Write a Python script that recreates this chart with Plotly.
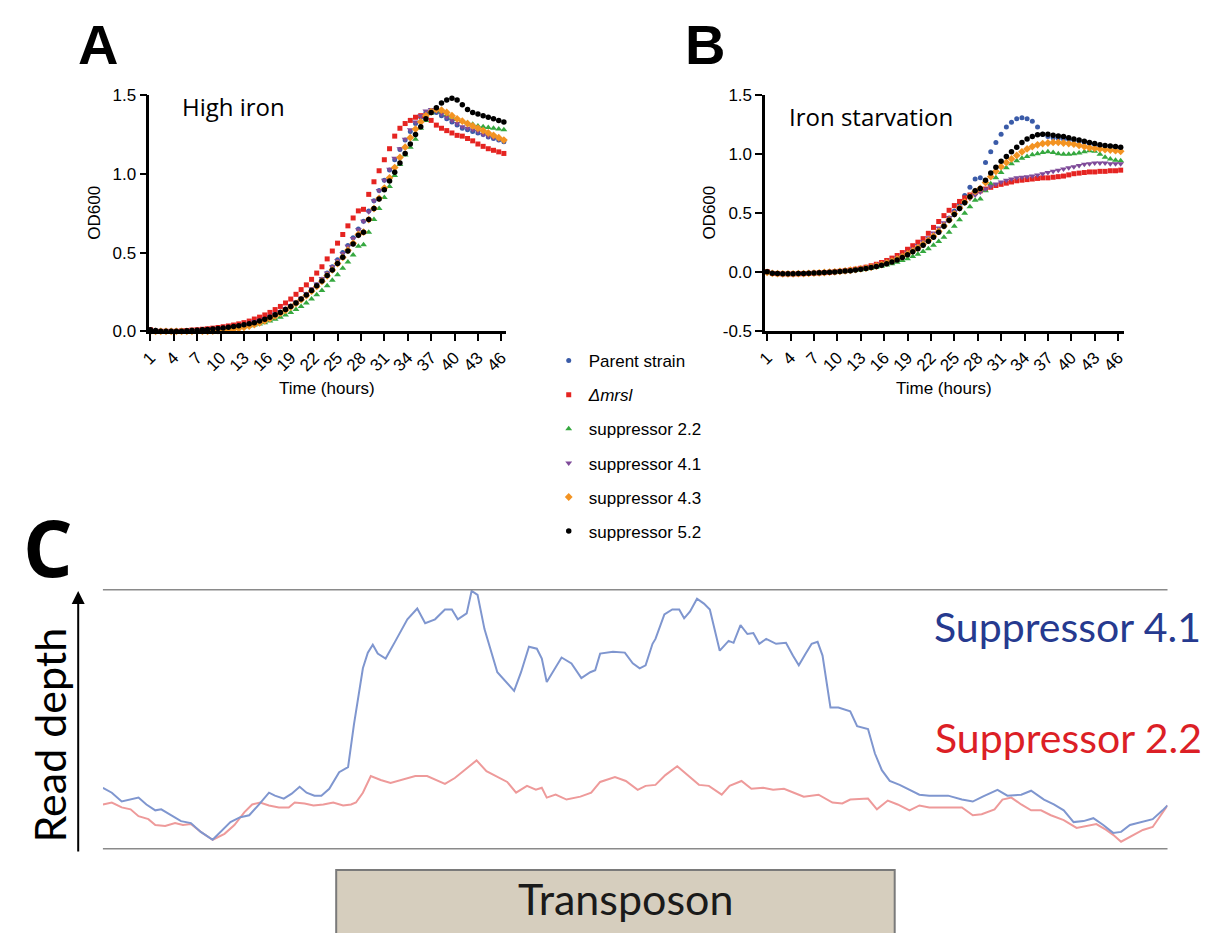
import plotly.graph_objects as go

# ---------------- data: growth curves (OD600) ----------------
time_h = [1.0, 1.67, 2.33, 3.0, 3.67, 4.33, 5.0, 5.67, 6.33, 7.0,
          7.67, 8.33, 9.0, 9.67, 10.33, 11.0, 11.67, 12.33, 13.0, 13.67,
          14.33, 15.0, 15.67, 16.33, 17.0, 17.67, 18.33, 19.0, 19.67, 20.33,
          21.0, 21.67, 22.33, 23.0, 23.67, 24.33, 25.0, 25.67, 26.33, 27.0,
          27.67, 28.33, 29.0, 29.67, 30.33, 31.0, 31.67, 32.33, 33.0, 33.67,
          34.33, 35.0, 35.67, 36.33, 37.0, 37.67, 38.33, 39.0, 39.67, 40.33,
          41.0, 41.67, 42.33, 43.0, 43.67, 44.33, 45.0, 45.67, 46.33]

strains = ["Parent strain", "<i>Δmrsl</i>", "suppressor 2.2", "suppressor 4.1",
           "suppressor 4.3", "suppressor 5.2"]

# Panel A: high iron
hi_parent = [0.005, 0.0, 0.0, 0.0, 0.0, 0.0, 0.002, 0.004, 0.006, 0.008,
             0.01, 0.012, 0.015, 0.018, 0.021, 0.025, 0.03, 0.035, 0.041, 0.048,
             0.057, 0.067, 0.079, 0.092, 0.107, 0.123, 0.141, 0.161, 0.183, 0.207,
             0.235, 0.265, 0.295, 0.33, 0.37, 0.41, 0.455, 0.5, 0.545, 0.595,
             0.65, 0.70, 0.765, 0.83, 0.895, 0.96, 1.025, 1.09, 1.155, 1.215,
             1.27, 1.32, 1.36, 1.39, 1.40, 1.39, 1.37, 1.35, 1.33, 1.31,
             1.29, 1.28, 1.27, 1.26, 1.25, 1.235, 1.225, 1.215, 1.205]
hi_mrsl = [0.01, 0.0, 0.0, 0.0, 0.0, 0.0, 0.003, 0.005, 0.008, 0.01,
           0.013, 0.016, 0.02, 0.024, 0.029, 0.034, 0.04, 0.047, 0.055, 0.065,
           0.078, 0.09, 0.104, 0.12, 0.138, 0.158, 0.18, 0.205, 0.235, 0.265,
           0.295, 0.33, 0.37, 0.41, 0.46, 0.51, 0.56, 0.615, 0.67, 0.72,
           0.765, 0.775, 0.87, 0.95, 1.02, 1.09, 1.16, 1.24, 1.29, 1.32,
           1.34, 1.36, 1.37, 1.37, 1.34, 1.31, 1.29, 1.275, 1.26, 1.245,
           1.24, 1.225, 1.21, 1.19, 1.175, 1.16, 1.15, 1.14, 1.13]
hi_s22 = [0.005, 0.0, 0.0, 0.0, 0.0, 0.0, 0.0, 0.0, 0.002, 0.004,
          0.006, 0.008, 0.01, 0.012, 0.014, 0.017, 0.02, 0.024, 0.029, 0.034,
          0.04, 0.047, 0.055, 0.065, 0.076, 0.089, 0.104, 0.12, 0.138, 0.158,
          0.18, 0.205, 0.232, 0.26, 0.29, 0.325, 0.36, 0.4, 0.44, 0.485,
          0.54, 0.55, 0.63, 0.71, 0.78, 0.85, 0.92, 0.99, 1.06, 1.12,
          1.17, 1.22, 1.29, 1.34, 1.385, 1.40, 1.39, 1.375, 1.36, 1.345,
          1.335, 1.325, 1.315, 1.305, 1.30, 1.295, 1.29, 1.285, 1.28]
hi_s41 = [0.0, 0.0, 0.0, 0.0, 0.0, 0.0, 0.0, 0.0, 0.003, 0.005,
          0.007, 0.009, 0.011, 0.013, 0.015, 0.018, 0.021, 0.026, 0.032, 0.039,
          0.06, 0.07, 0.082, 0.095, 0.11, 0.126, 0.144, 0.164, 0.186, 0.21,
          0.24, 0.27, 0.30, 0.335, 0.37, 0.41, 0.45, 0.495, 0.54, 0.59,
          0.645, 0.70, 0.76, 0.83, 0.895, 0.96, 1.03, 1.10, 1.16, 1.22,
          1.28, 1.33, 1.37, 1.40, 1.41, 1.40, 1.38, 1.36, 1.34, 1.32,
          1.30, 1.29, 1.28, 1.27, 1.25, 1.24, 1.23, 1.22, 1.21]
hi_s43 = [0.0, 0.0, 0.0, 0.0, 0.0, 0.0, 0.0, 0.0, 0.0, 0.0,
          0.0, 0.0, 0.002, 0.004, 0.006, 0.009, 0.013, 0.018, 0.025, 0.033,
          0.043, 0.054, 0.067, 0.081, 0.097, 0.114, 0.133, 0.154, 0.177, 0.201,
          0.227, 0.255, 0.285, 0.318, 0.353, 0.39, 0.43, 0.47, 0.515, 0.56,
          0.615, 0.63, 0.71, 0.78, 0.845, 0.91, 0.975, 1.04, 1.105, 1.17,
          1.23, 1.285, 1.33, 1.37, 1.395, 1.41, 1.405, 1.39, 1.37, 1.35,
          1.335, 1.32, 1.305, 1.29, 1.275, 1.26, 1.245, 1.23, 1.215]
hi_s52 = [0.01, 0.005, 0.0, 0.0, 0.0, 0.0, 0.0, 0.003, 0.005, 0.007,
          0.01, 0.012, 0.015, 0.018, 0.021, 0.025, 0.03, 0.035, 0.041, 0.048,
          0.055, 0.065, 0.077, 0.09, 0.105, 0.12, 0.138, 0.158, 0.18, 0.205,
          0.23, 0.26, 0.29, 0.32, 0.355, 0.39, 0.43, 0.47, 0.51, 0.555,
          0.61, 0.63, 0.71, 0.78, 0.84, 0.90, 0.955, 1.01, 1.07, 1.13,
          1.19, 1.25, 1.30, 1.35, 1.39, 1.42, 1.45, 1.47, 1.48, 1.47,
          1.44, 1.41, 1.39, 1.38, 1.37, 1.36, 1.35, 1.34, 1.33]

# Panel B: iron starvation
lo_parent = [0.0, -0.008, -0.01, -0.012, -0.012, -0.012, -0.011, -0.01, -0.008, -0.006,
             -0.004, -0.002, 0.0, 0.003, 0.006, 0.01, 0.014, 0.019, 0.025, 0.032,
             0.04, 0.05, 0.062, 0.076, 0.092, 0.11, 0.13, 0.153, 0.178, 0.205,
             0.235, 0.268, 0.305, 0.35, 0.40, 0.46, 0.52, 0.58, 0.65, 0.72,
             0.79, 0.80, 0.93, 1.02, 1.10, 1.17, 1.23, 1.27, 1.30, 1.31,
             1.30, 1.28, 1.23, 1.17, 1.15, 1.14, 1.135, 1.13, 1.125, 1.12,
             1.11, 1.10, 1.09, 1.08, 1.075, 1.07, 1.065, 1.06, 1.055]
lo_mrsl = [0.005, -0.01, -0.012, -0.014, -0.014, -0.014, -0.013, -0.012, -0.01, -0.008,
           -0.006, -0.003, 0.0, 0.004, 0.008, 0.013, 0.019, 0.026, 0.034, 0.043,
           0.055, 0.068, 0.083, 0.1, 0.12, 0.142, 0.167, 0.195, 0.225, 0.255,
           0.285, 0.33, 0.38, 0.43, 0.48, 0.525, 0.565, 0.6, 0.63, 0.655,
           0.675, 0.69, 0.705, 0.72, 0.735, 0.745, 0.755, 0.765, 0.775, 0.78,
           0.785, 0.79, 0.795, 0.80, 0.80, 0.805, 0.81, 0.815, 0.825, 0.835,
           0.84, 0.845, 0.85, 0.85, 0.855, 0.855, 0.86, 0.86, 0.865]
lo_s22 = [0.0, -0.008, -0.01, -0.012, -0.012, -0.012, -0.011, -0.01, -0.008, -0.006,
          -0.004, -0.002, 0.0, 0.002, 0.005, 0.008, 0.012, 0.016, 0.021, 0.027,
          0.034, 0.042, 0.051, 0.061, 0.072, 0.085, 0.099, 0.115, 0.133, 0.153,
          0.175, 0.2, 0.228, 0.26, 0.297, 0.34, 0.39, 0.445, 0.5, 0.555,
          0.61, 0.62, 0.69, 0.75, 0.8, 0.845, 0.885, 0.92, 0.945, 0.965,
          0.98, 0.995, 1.005, 1.015, 1.02, 1.015, 1.005, 1.0, 1.0, 1.005,
          1.01, 1.02, 1.03, 1.025, 1.0, 0.975, 0.96, 0.95, 0.945]
lo_s41 = [0.0, -0.008, -0.01, -0.012, -0.012, -0.012, -0.011, -0.01, -0.008, -0.006,
          -0.004, -0.001, 0.002, 0.005, 0.009, 0.013, 0.018, 0.024, 0.031, 0.039,
          0.048, 0.059, 0.072, 0.087, 0.104, 0.123, 0.145, 0.17, 0.197, 0.226,
          0.258, 0.293, 0.332, 0.375, 0.42, 0.465, 0.51, 0.55, 0.59, 0.625,
          0.655, 0.68, 0.705, 0.728, 0.748, 0.765, 0.78, 0.79, 0.80, 0.805,
          0.81, 0.815, 0.825, 0.835, 0.845, 0.855, 0.865, 0.875, 0.885, 0.895,
          0.905, 0.915, 0.92, 0.925, 0.925, 0.925, 0.92, 0.92, 0.92]
lo_s43 = [0.0, -0.01, -0.012, -0.013, -0.013, -0.013, -0.012, -0.011, -0.009, -0.007,
          -0.005, -0.002, 0.001, 0.004, 0.008, 0.012, 0.017, 0.022, 0.028, 0.035,
          0.043, 0.053, 0.065, 0.079, 0.095, 0.113, 0.133, 0.156, 0.181, 0.208,
          0.238, 0.27, 0.306, 0.347, 0.393, 0.443, 0.495, 0.545, 0.595, 0.64,
          0.685, 0.71, 0.76, 0.81, 0.855, 0.895, 0.93, 0.96, 0.99, 1.02,
          1.045, 1.065, 1.08, 1.09, 1.095, 1.1, 1.1, 1.095, 1.09, 1.085,
          1.075, 1.065, 1.055, 1.05, 1.045, 1.04, 1.035, 1.03, 1.025]
lo_s52 = [0.005, -0.008, -0.01, -0.012, -0.012, -0.012, -0.011, -0.01, -0.008, -0.006,
          -0.004, -0.002, 0.0, 0.003, 0.006, 0.01, 0.014, 0.019, 0.025, 0.032,
          0.04, 0.049, 0.06, 0.073, 0.088, 0.105, 0.125, 0.148, 0.173, 0.2,
          0.23, 0.262, 0.297, 0.34, 0.39, 0.44, 0.49, 0.54, 0.59, 0.64,
          0.69, 0.71, 0.78, 0.84, 0.89, 0.94, 0.98, 1.02, 1.06, 1.10,
          1.13, 1.15, 1.165, 1.17, 1.17, 1.16, 1.155, 1.15, 1.14, 1.13,
          1.12, 1.11, 1.10, 1.09, 1.08, 1.075, 1.07, 1.065, 1.06]

time_ticks = [1, 4, 7, 10, 13, 16, 19, 22, 25, 28, 31, 34, 37, 40, 43, 46]
od_ticks_a = [0.0, 0.5, 1.0, 1.5]
od_ticks_b = [-0.5, 0.0, 0.5, 1.0, 1.5]

# ---------------- data: panel C read depth ----------------
s41_pos = [0, 9, 19, 28, 36, 44, 53, 59, 69, 79, 89, 99, 111, 121, 129, 139, 148, 158, 168, 174,
           183, 191, 199, 206, 214, 221, 229, 239, 248, 254, 259, 263, 268, 273, 278, 286, 296, 308,
           318, 326, 336, 346, 353, 359, 368, 373, 379, 386, 399, 409, 416, 423, 431, 439, 444, 449,
           456, 464, 474, 484, 493, 498, 503, 516, 528, 536, 543, 549, 556, 559, 568, 576, 583, 588,
           594, 601, 608, 614, 624, 633, 638, 645, 652, 658, 664, 671, 681, 691, 698, 704, 711, 717,
           723, 728, 736, 744, 756, 763, 774, 781, 788, 796, 806, 816, 826, 836, 855, 869, 880, 890,
           905, 915, 929, 939, 952, 962, 972, 982, 992, 1002, 1012, 1022, 1030, 1039, 1052, 1062,
           1072, 1077]
s41_depth = [63, 58, 49, 51, 53, 46, 40, 41, 35, 29, 27, 18, 10, 20, 28, 33, 35, 46, 58, 55,
             52, 57, 64, 58, 55, 55, 62, 79, 84, 128, 161, 185, 201, 209, 200, 195, 213, 235,
             246, 231, 235, 245, 245, 235, 241, 264, 260, 225, 181, 170, 162, 181, 207, 205, 195, 171,
             183, 196, 190, 175, 181, 183, 200, 202, 201, 190, 185, 188, 210, 215, 240, 245, 245, 236,
             243, 256, 251, 245, 203, 213, 211, 229, 220, 221, 210, 215, 210, 211, 198, 188, 200, 210,
             212, 198, 145, 145, 141, 126, 123, 98, 81, 70, 66, 61, 56, 55, 55, 51, 49, 54,
             61, 55, 56, 60, 51, 46, 40, 28, 29, 32, 25, 17, 18, 25, 28, 31,
             40, 45]
s22_pos = [0, 9, 19, 28, 36, 46, 53, 63, 73, 81, 89, 99, 111, 123, 133, 143, 151, 159, 168, 178,
           188, 194, 204, 213, 223, 233, 243, 251, 256, 263, 271, 281, 291, 301, 316, 328, 338, 346,
           356, 366, 378, 388, 399, 409, 418, 429, 438, 444, 449, 458, 469, 483, 494, 503, 518, 529,
           541, 549, 559, 569, 581, 593, 603, 613, 626, 634, 646, 656, 668, 678, 689, 699, 709, 724,
           738, 748, 756, 774, 783, 794, 804, 816, 826, 836, 857, 869, 880, 889, 902, 910, 919, 929,
           939, 949, 959, 972, 985, 995, 1005, 1015, 1022, 1030, 1039, 1052, 1062, 1070, 1077]
s22_depth = [46, 48, 43, 41, 34, 31, 25, 24, 27, 25, 26, 18, 10, 16, 25, 38, 46, 48, 45, 43,
             43, 48, 47, 45, 46, 48, 45, 46, 48, 58, 75, 71, 68, 71, 75, 75, 71, 67,
             73, 81, 91, 80, 74, 69, 58, 65, 61, 63, 53, 56, 51, 54, 58, 69, 74, 70,
             61, 65, 66, 76, 85, 75, 66, 65, 56, 65, 70, 62, 63, 61, 62, 58, 54, 56,
             48, 47, 51, 52, 41, 50, 46, 40, 45, 43, 43, 43, 35, 36, 41, 51, 53, 46,
             40, 40, 35, 30, 22, 24, 26, 20, 15, 8, 13, 20, 23, 35, 45]
transposon_start = 236
transposon_end = 801

# ---------------- styling ----------------
colors = ["#3a5ba8", "#e52421", "#35a83f", "#7f4b99", "#f39322", "#000000"]
symbols = ["circle", "square", "triangle-up", "triangle-down", "diamond", "circle"]
sizes = [5, 5, 6, 6, 6, 5.5]

W, H = 1216, 933
def px(x):
    return x / W
def py(y):
    return 1 - y / H

fig = go.Figure()

hi = [hi_parent, hi_mrsl, hi_s22, hi_s41, hi_s43, hi_s52]
lo = [lo_parent, lo_mrsl, lo_s22, lo_s41, lo_s43, lo_s52]
for i, name in enumerate(strains):
    fig.add_trace(go.Scatter(x=time_h, y=hi[i], mode="markers", name=name,
                             legendgroup=f"g{i}", showlegend=True,
                             marker=dict(color=colors[i], symbol=symbols[i], size=sizes[i]),
                             cliponaxis=False, xaxis="x", yaxis="y"))
for i, name in enumerate(strains):
    fig.add_trace(go.Scatter(x=time_h, y=lo[i], mode="markers", name=name,
                             legendgroup=f"g{i}", showlegend=False,
                             marker=dict(color=colors[i], symbol=symbols[i], size=sizes[i]),
                             cliponaxis=False, xaxis="x2", yaxis="y2"))

fig.add_trace(go.Scatter(x=s22_pos, y=s22_depth, mode="lines", showlegend=False,
                         line=dict(color="#ee9a9a", width=2), xaxis="x3", yaxis="y3"))
fig.add_trace(go.Scatter(x=s41_pos, y=s41_depth, mode="lines", showlegend=False,
                         line=dict(color="#7f96cf", width=2), xaxis="x3", yaxis="y3"))

tickfont = dict(family="Liberation Sans, Arial", size=17, color="black")
common_x = dict(showline=True, linecolor="black", linewidth=2.5, ticks="outside",
                ticklen=7, tickwidth=2, tickcolor="black", showgrid=False, zeroline=False,
                tickvals=time_ticks, ticktext=[str(t) for t in time_ticks], tickangle=-45,
                tickfont=tickfont)
common_y = dict(showline=True, linecolor="black", linewidth=2.5, ticks="outside",
                ticklen=7, tickwidth=2, tickcolor="black", showgrid=False, zeroline=False,
                tickfont=tickfont)

fig.update_layout(
    width=W, height=H, margin=dict(l=0, r=0, t=0, b=0),
    paper_bgcolor="white", plot_bgcolor="white",
    xaxis=dict(domain=[px(141), px(502)], range=[0.87, 46.63], anchor="y", **common_x),
    yaxis=dict(domain=[py(329), py(88)], range=[0, 1.5], anchor="x",
               tickvals=od_ticks_a, ticktext=[f"{v:.1f}" for v in od_ticks_a], **common_y),
    xaxis2=dict(domain=[px(764), px(1127)], range=[0.75, 46.76], anchor="y2", **common_x),
    yaxis2=dict(domain=[py(329), py(88)], range=[-0.5, 1.5], anchor="x2",
                tickvals=od_ticks_b, ticktext=[f"{v:.1f}" for v in od_ticks_b], **common_y),
    xaxis3=dict(domain=[px(94), px(1171)], range=[0, 1077], anchor="y3", visible=False),
    yaxis3=dict(domain=[py(858), py(592)], range=[0, 266], anchor="x3", visible=False),
    showlegend=True,
    legend=dict(x=px(545), y=py(341), xanchor="left", yanchor="top",
                font=dict(family="Liberation Sans, Arial", size=17, color="black"),
                tracegroupgap=9, bgcolor="rgba(0,0,0,0)", itemsizing="trace"),
)

shapes = [
    dict(type="line", xref="x3 domain", yref="y3", x0=0, x1=1, y0=266, y1=266,
         line=dict(color="#8a8a8a", width=3)),
    dict(type="line", xref="x3 domain", yref="y3", x0=0, x1=1, y0=-5, y1=-5,
         line=dict(color="#e6e6e6", width=4)),
    dict(type="line", xref="x3 domain", yref="y3", x0=0, x1=1, y0=0, y1=0,
         line=dict(color="#8a8a8a", width=3)),
    dict(type="rect", xref="x3", yref="paper", x0=transposon_start, x1=transposon_end,
         y0=py(945), y1=py(879), fillcolor="#d6cebe", line=dict(color="#7a7a7a", width=2),
         layer="below"),
]
fig.update_layout(shapes=shapes)

ann = []
def text(x, y, s, size, family="Liberation Sans, Arial", color="black", angle=0,
         xanchor="center", yanchor="middle"):
    ann.append(dict(x=px(x), y=py(y), xref="paper", yref="paper", text=s, showarrow=False,
                    textangle=angle, xanchor=xanchor, yanchor=yanchor,
                    font=dict(family=family, size=size, color=color)))

text(89, 36, "<b>A</b>", 56)
text(703, 36, "<b>B</b>", 56)
text(38, 549, "<b>C</b>", 78, family="Open Sans, Liberation Sans")
text(172, 100, "High iron", 24, family="Open Sans", xanchor="left")
text(786, 110, "Iron starvation", 24, family="Open Sans", xanchor="left")
text(86, 208, "OD600", 17, angle=-90)
text(708, 208, "OD600", 17, angle=-90)
text(321, 387, "Time (hours)", 17)
text(945, 387, "Time (hours)", 17)
text(40, 741, "Read depth", 43, family="Lato", angle=-90)
text(933, 630, "Suppressor 4.1", 41, family="Lato", color="#263a8f", xanchor="left")
text(934, 744, "Suppressor 2.2", 41, family="Lato", color="#dc1f26", xanchor="left")
text(623, 908, "Transposon", 43, family="Lato", color="#1a1a1a")
ann.append(dict(x=px(69), y=py(594), xref="paper", yref="paper", ax=0, ay=262,
                axref="pixel", ayref="pixel", text="", showarrow=True,
                arrowhead=2, arrowsize=1.3, arrowwidth=2, arrowcolor="black"))
fig.update_layout(annotations=ann)

fig.write_html("out.html")
